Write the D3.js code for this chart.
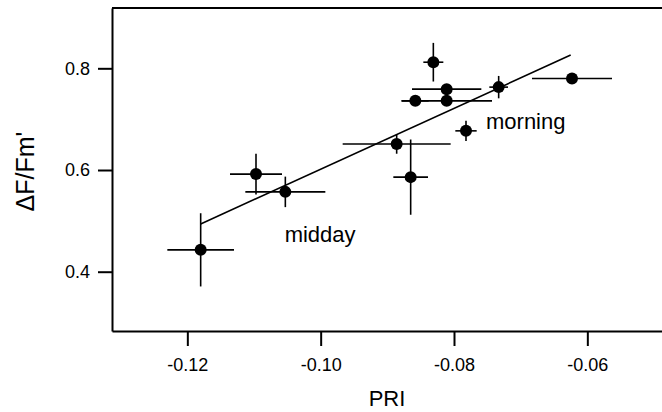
<!DOCTYPE html>
<html>
<head>
<meta charset="utf-8">
<script src="https://cdn.jsdelivr.net/npm/d3@7"></script>
<style>
  body { margin: 0; background: #fff; }
  svg text { font-family: "Liberation Sans", Arial, sans-serif; fill: #000; }
</style>
</head>
<body>
<div id="chart"></div>
<script>
// data: PRI (x) and dF/Fm' (y) with their error bars
var pri    = [-0.0831, -0.0811, -0.0858, -0.0811, -0.0733, -0.0623, -0.0782, -0.0886, -0.0865, -0.1097, -0.1053, -0.1180];
var priErr = [ 0.0015,  0.0052,  0.0020,  0.0068,  0.0014,  0.0060,  0.0016,  0.0081,  0.0026,  0.0039,  0.0060,  0.0050];
var fvfm    = [0.812, 0.759, 0.736, 0.736, 0.763, 0.780, 0.677, 0.651, 0.586, 0.592, 0.557, 0.443];
var fvfmErr = [0.038, 0.004, 0.004, 0.004, 0.022, 0.004, 0.020, 0.019, 0.074, 0.040, 0.030, 0.072];

// regression line end points
var fitX = [-0.118, -0.0625];
var fitY = [0.494, 0.826];

var xTicks = [-0.12, -0.10, -0.08, -0.06];
var yTicks = [0.4, 0.6, 0.8];

var labels = [
  { text: "morning", x: -0.0752, y: 0.680 },
  { text: "midday", x: -0.1054, y: 0.458 }
];

var svgWidth = 662;
var svgHeight = 412;

var margin = { top: 8, right: 0, bottom: 81, left: 112 };
var chartWidth = svgWidth - margin.left - margin.right;
var chartHeight = svgHeight - margin.top - margin.bottom;

var svg = d3.select("#chart")
  .append("svg")
  .attr("width", svgWidth)
  .attr("height", svgHeight);

var chartGroup = svg.append("g")
  .attr("transform", `translate(${margin.left}, ${margin.top})`);

// scales
var xScale = d3.scaleLinear()
  .domain([-0.1313, -0.0488])
  .range([0, chartWidth]);
var yScale = d3.scaleLinear()
  .domain([0.2834, 0.9186])
  .range([chartHeight, 0]);

var data = pri.map(function (d, i) {
  return { x: d, xe: priErr[i], y: fvfm[i], ye: fvfmErr[i] };
});

// axes
var xAxis = d3.axisBottom(xScale)
  .tickValues(xTicks)
  .tickFormat(d3.format(".2f"))
  .tickSize(15)
  .tickSizeOuter(0)
  .tickPadding(12);
var yAxis = d3.axisLeft(yScale)
  .tickValues(yTicks)
  .tickFormat(d3.format(".1f"))
  .tickSize(14)
  .tickSizeOuter(0)
  .tickPadding(8);

var xg = chartGroup.append("g")
  .attr("transform", `translate(0,${chartHeight})`)
  .call(xAxis);
var yg = chartGroup.append("g")
  .call(yAxis);

[xg, yg].forEach(function (g) {
  g.selectAll("path, line").attr("stroke", "#000").attr("stroke-width", 2);
  g.selectAll("text").attr("font-size", 18);
});
// x tick labels use a plain hyphen like the original
xg.selectAll("text").text(function (d) { return d3.format(".2f")(d).replace("\u2212", "-"); });

// top frame line
chartGroup.append("line")
  .attr("x1", 0)
  .attr("x2", chartWidth)
  .attr("y1", 0)
  .attr("y2", 0)
  .attr("stroke", "#000")
  .attr("stroke-width", 2);

// regression line
chartGroup.append("line")
  .attr("x1", xScale(fitX[0]))
  .attr("y1", yScale(fitY[0]))
  .attr("x2", xScale(fitX[1]))
  .attr("y2", yScale(fitY[1]))
  .attr("stroke", "#000")
  .attr("stroke-width", 1.6);

// horizontal error bars
chartGroup.selectAll(".xErr")
  .data(data)
  .enter()
  .append("line")
  .attr("x1", d => xScale(d.x - d.xe))
  .attr("x2", d => xScale(d.x + d.xe))
  .attr("y1", d => yScale(d.y))
  .attr("y2", d => yScale(d.y))
  .attr("stroke", "#000")
  .attr("stroke-width", 1.6);

// vertical error bars
chartGroup.selectAll(".yErr")
  .data(data)
  .enter()
  .append("line")
  .attr("x1", d => xScale(d.x))
  .attr("x2", d => xScale(d.x))
  .attr("y1", d => yScale(d.y - d.ye))
  .attr("y2", d => yScale(d.y + d.ye))
  .attr("stroke", "#000")
  .attr("stroke-width", 1.6);

// points
chartGroup.selectAll(".dot")
  .data(data)
  .enter()
  .append("circle")
  .attr("cx", d => xScale(d.x))
  .attr("cy", d => yScale(d.y))
  .attr("r", 6)
  .attr("fill", "#000");

// text labels in the plot
chartGroup.selectAll(".note")
  .data(labels)
  .enter()
  .append("text")
  .attr("x", d => xScale(d.x))
  .attr("y", d => yScale(d.y))
  .attr("font-size", 22)
  .text(d => d.text);

// axis titles
svg.append("text")
  .attr("x", margin.left + chartWidth / 2)
  .attr("y", 406)
  .attr("text-anchor", "middle")
  .attr("font-size", 22)
  .text("PRI");

svg.append("text")
  .attr("transform", `translate(34, ${margin.top + chartHeight / 2 + 2}) rotate(-90)`)
  .attr("text-anchor", "middle")
  .attr("font-size", 25)
  .text("\u0394F/Fm'");
</script>
</body>
</html>
